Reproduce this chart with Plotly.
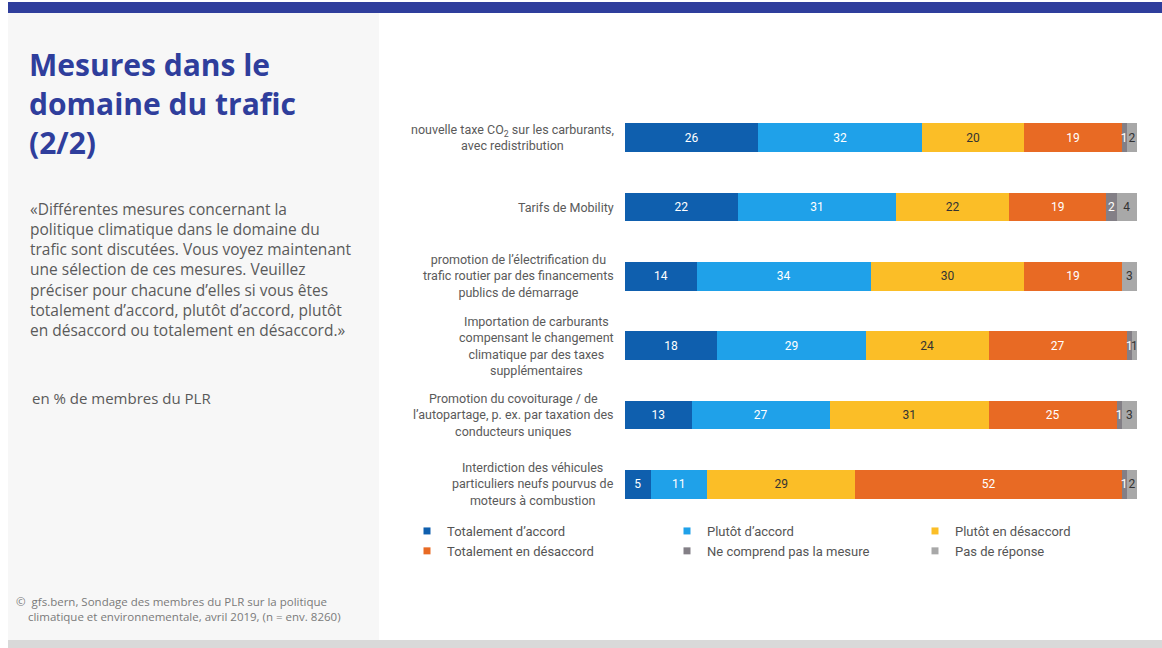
import plotly.graph_objects as go

# Survey items (top to bottom)
categories = [
    "nouvelle taxe CO<sub>2</sub> sur les carburants,<br>avec redistribution",
    "Tarifs de Mobility",
    "promotion de l’électrification du<br>trafic routier par des financements<br>publics de démarrage",
    "Importation de carburants<br>compensant le changement<br>climatique par des taxes<br>supplémentaires",
    "Promotion du covoiturage / de<br>l’autopartage, p. ex. par taxation des<br>conducteurs uniques",
    "Interdiction des véhicules<br>particuliers neufs pourvus de<br>moteurs à combustion",
]
cat_ids = ["c1", "c2", "c3", "c4", "c5", "c6"]

series_names = [
    "Totalement d’accord",
    "Plutôt d’accord",
    "Plutôt en désaccord",
    "Totalement en désaccord",
    "Ne comprend pas la mesure",
    "Pas de réponse",
]
totalement_accord = [26, 22, 14, 18, 13, 5]
plutot_accord = [32, 31, 34, 29, 27, 11]
plutot_desaccord = [20, 22, 30, 24, 31, 29]
totalement_desaccord = [19, 19, 19, 27, 25, 52]
ne_comprend_pas = [1, 2, 0, 1, 1, 1]
pas_de_reponse = [2, 4, 3, 1, 3, 2]
series_values = [totalement_accord, plutot_accord, plutot_desaccord,
                 totalement_desaccord, ne_comprend_pas, pas_de_reponse]

colors = ["#0F5FAE", "#1FA1E9", "#FBBE27", "#E86A24", "#837F86", "#A8A8A8"]
text_colors = ["white", "white", "#333333", "white", "white", "#333333"]
legend_ids = ["legend", "legend2", "legend3", "legend", "legend2", "legend3"]

W, H = 1162, 648
L, R, T, B = 625, 1137, 103, 519

def px(x):
    return (x - L) / (R - L)

def py(y):
    return (B - y) / (B - T)

NARROW = "Liberation Sans Narrow, Roboto, sans-serif"
BODY = "Open Sans, Noto Sans, sans-serif"

fig = go.Figure()
for name, vals, col, tcol in zip(series_names, series_values, colors, text_colors):
    fig.add_trace(go.Bar(
        y=cat_ids, x=vals, name=name, orientation="h",
        marker=dict(color=col, line=dict(width=0)),
        text=[str(v) if v > 0 else None for v in vals],
        textposition="inside", insidetextanchor="middle", textangle=0,
        insidetextfont=dict(family=NARROW, size=12, color=tcol),
        width=0.41, showlegend=False, hoverinfo="skip",
    ))

# legend entries with small square swatches, three columns
for name, col, lg in zip(series_names, colors, legend_ids):
    fig.add_trace(go.Scatter(
        x=[None], y=[None], mode="markers", name=name, legend=lg,
        marker=dict(symbol="square", size=7, color=col),
        hoverinfo="skip",
    ))

legend_style = dict(orientation="v", yanchor="top", xanchor="left",
                    traceorder="normal",
                    bgcolor="rgba(0,0,0,0)", tracegroupgap=0,
                    font=dict(family=NARROW, size=13, color="#555555"),
                    itemwidth=30)
fig.update_layout(
    legend=dict(x=px(407), y=py(516), **legend_style),
    legend2=dict(x=px(667), y=py(516), **legend_style),
    legend3=dict(x=px(915), y=py(516), **legend_style),
)

# category labels, centred lines, right edge next to the bars
for cid, lab in zip(cat_ids, categories):
    fig.add_annotation(
        x=px(616), xref="paper", y=cid, yref="y",
        text=lab, showarrow=False, xanchor="right", yanchor="middle",
        align="center", font=dict(family=NARROW, size=12.5, color="#5a5a5a"),
    )

# page furniture: header band, left panel, footer band
fig.add_shape(type="rect", xref="paper", yref="paper", layer="below",
              x0=px(8), x1=px(379), y0=py(640), y1=py(13),
              fillcolor="#F7F7F7", line=dict(width=0))
fig.add_shape(type="rect", xref="paper", yref="paper", layer="below",
              x0=px(8), x1=px(1162), y0=py(13), y1=py(2),
              fillcolor="#2F3E9C", line=dict(width=0))
fig.add_shape(type="rect", xref="paper", yref="paper", layer="below",
              x0=px(8), x1=px(1162), y0=py(648), y1=py(640),
              fillcolor="#D9D9D9", line=dict(width=0))

fig.add_annotation(
    x=px(27), y=py(42), xref="paper", yref="paper", xanchor="left", yanchor="top",
    align="left", showarrow=False,
    text="<b>Mesures dans le<br>domaine du trafic<br>(2/2)</b>",
    font=dict(family=BODY, size=30, color="#2F3E9C"),
)
fig.add_annotation(
    x=px(28), y=py(196), xref="paper", yref="paper", xanchor="left", yanchor="top",
    align="left", showarrow=False,
    text=("«Différentes mesures concernant la<br>politique climatique dans le domaine du<br>"
          "trafic sont discutées. Vous voyez maintenant<br>une sélection de ces mesures. Veuillez<br>"
          "préciser pour chacune d’elles si vous êtes<br>totalement d’accord, plutôt d’accord, plutôt<br>"
          "en désaccord ou totalement en désaccord.»"),
    font=dict(family=BODY, size=15.5, color="#5a5a5a"),
)
fig.add_annotation(
    x=px(30), y=py(386), xref="paper", yref="paper", xanchor="left", yanchor="top",
    align="left", showarrow=False, text="en % de membres du PLR",
    font=dict(family=BODY, size=15, color="#5a5a5a"),
)
fig.add_annotation(
    x=px(14), y=py(592), xref="paper", yref="paper", xanchor="left", yanchor="top",
    align="left", showarrow=False,
    text=("©  gfs.bern, Sondage des membres du PLR sur la politique<br>"
          "    climatique et environnementale, avril 2019, (n = env. 8260)"),
    font=dict(family=BODY, size=11.5, color="#7a7a7a"),
)

fig.update_layout(
    width=W, height=H, barmode="stack",
    margin=dict(l=L, r=W - R, t=T, b=H - B, pad=0),
    paper_bgcolor="white", plot_bgcolor="white",
    uniformtext=dict(minsize=12, mode="show"),
    xaxis=dict(range=[0, 100], visible=False, fixedrange=True),
    yaxis=dict(categoryorder="array", categoryarray=cat_ids, autorange="reversed",
               showticklabels=False, showgrid=False, zeroline=False,
               showline=False, ticks="", fixedrange=True),
    showlegend=True,
)

fig.write_html("out.html", config={"displayModeBar": False})
